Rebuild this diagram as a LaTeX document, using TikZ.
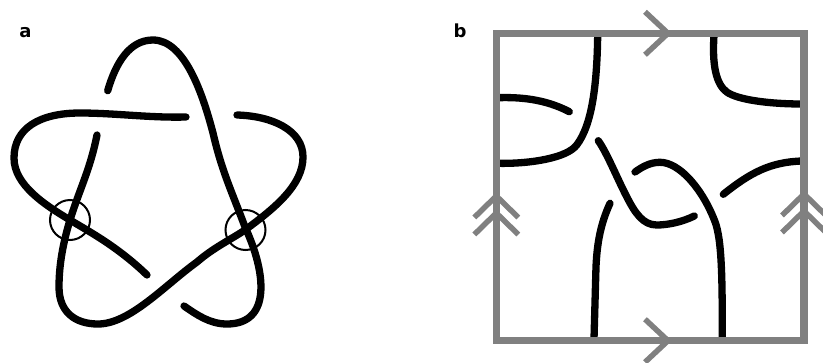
\documentclass[tikz,border=0pt]{standalone}
\usepackage{fontspec}
\usepackage{xcolor}
\usepackage{tikz}
\setsansfont{DejaVu Sans}
\definecolor{FrameGray}{HTML}{808080}

\begin{document}
\begin{tikzpicture}[x=1pt, y=-1pt,
  strand/.style={draw=black, line width=7.3pt, line cap=round, line join=round},
  marker/.style={draw=black, line width=2pt},
  frame/.style={draw=FrameGray, line width=7.3pt, line join=miter},
  chevron/.style={draw=FrameGray, line width=5.5pt},
  panel/.style={font=\sffamily\bfseries\fontsize{18}{20}\selectfont, inner sep=0pt}]
  \useasboundingbox (0,0) rectangle (823,362);
  \clip (0,0) rectangle (823,362);
  \node[panel] (a) at (25.5,33) {a};
  \node[panel] (b) at (460,30.5) {b};
  % left knot
  \draw[marker] (70,220) circle (20);
  \draw[marker] (245.5,230) circle (20);
  \draw[strand] (107.7,90.7) .. controls (116,62) and (130,40) .. (153,40)
    .. controls (185,40) and (203,95) .. (213,133)
    .. controls (222,172) and (232,192) .. (245,227)
    .. controls (266,272) and (272,324) .. (227,324)
    .. controls (210,324) and (197,315) .. (184,306);
  \draw[strand] (186,117) .. controls (150,118) and (115,113) .. (80,113)
    .. controls (40,113) and (14,128) .. (14,158)
    .. controls (14,185) and (45,205) .. (70,220)
    .. controls (90,232) and (118,247) .. (147,275);
  \draw[strand] (97,135) .. controls (90,170) and (80,188) .. (70,220)
    .. controls (63,243) and (59,265) .. (59,287)
    .. controls (59,312) and (75,324) .. (98,324)
    .. controls (130,324) and (165,285) .. (197,262)
    .. controls (213,248) and (230,240) .. (245,230)
    .. controls (275,208) and (303,185) .. (303,157)
    .. controls (303,130) and (272,116) .. (237,115);
  % right square
  \draw[strand] (597.7,35) .. controls (597,85) and (592,125) .. (576.7,145)
    .. controls (567,158) and (530,164) .. (498,163.3);
  \draw[strand] (498,97.7) .. controls (520,97) and (545,99) .. (569.3,111.7);
  \draw[strand] (714,35) .. controls (712,65) and (716,84) .. (726.7,92)
    .. controls (738,100) and (770,104) .. (802,104);
  \draw[strand] (598.3,140.7) .. controls (607,153) and (617,178) .. (626.7,196.7)
    .. controls (635,213) and (643,225) .. (656.7,225)
    .. controls (668,225) and (682,222) .. (694.3,216);
  \draw[strand] (635,172) .. controls (642,167) and (650,162.3) .. (660,162.3)
    .. controls (680,162.3) and (703,190) .. (715,221.7)
    .. controls (722,240) and (722.3,280) .. (722.3,339);
  \draw[strand] (610,203.3) .. controls (600,225) and (597,245) .. (596,266.7)
    -- (594,339);
  \draw[strand] (723.3,194.3) .. controls (750,173) and (770,162) .. (802,161);
  \draw[frame] (496.3,33.3) rectangle (804,340.7);
  \foreach \tipx/\tipy in {668/33.3, 668/340.7}
    \draw[chevron] (\tipx-23,\tipy-21.5) -- (\tipx,\tipy) -- (\tipx-23,\tipy+21.5);
  \foreach \tipx/\tipy in {496.3/196, 496.3/213, 804/194, 804/211}
    \draw[chevron] (\tipx-22,\tipy+21.5) -- (\tipx,\tipy) -- (\tipx+22,\tipy+21.5);
\end{tikzpicture}
\end{document}
